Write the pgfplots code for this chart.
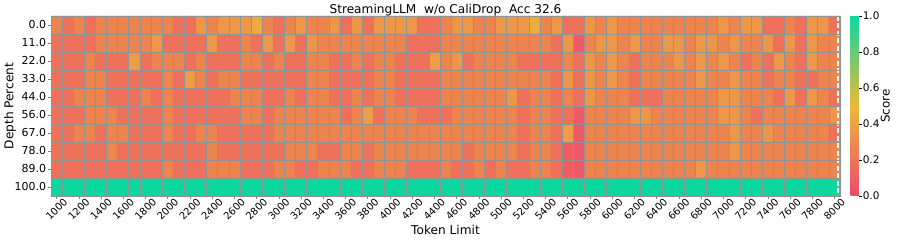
\documentclass[border=0pt]{standalone}
\usepackage{fontspec}
\setmainfont{DejaVu Sans}
\usepackage{pgfplots}
\pgfplotsset{compat=1.18}
\definecolor{gridgray}{RGB}{150,145,145}
\begin{document}
\begin{tikzpicture}
\useasboundingbox (0,0) rectangle (897bp,241bp);
\begin{axis}[
  at={(51bp,45bp)}, anchor=south west,
  scale only axis, width=789bp, height=180bp,
  xmin=-0.5, xmax=70.5, ymin=-0.5, ymax=9.5,
  y dir=reverse,
  /pgf/number format/assume math mode=true,
  colormap={niah}{rgb255=(240,73,110) rgb255=(235,184,57) rgb255=(12,215,159)},
  point meta min=0, point meta max=1,
  xtick={0,2,...,70},
  xticklabels={1000,1200,1400,1600,1800,2000,2200,2400,2600,2800,3000,3200,3400,3600,3800,4000,4200,4400,4600,4800,5000,5200,5400,5600,5800,6000,6200,6400,6600,6800,7000,7200,7400,7600,7800,8000},
  ytick={0,1,...,9},
  yticklabels={0.0,11.0,22.0,33.0,44.0,56.0,67.0,78.0,89.0,100.0},
  minor xtick={-0.5,0.5,...,70.5},
  minor ytick={-0.5,0.5,...,9.5},
  xminorgrids, yminorgrids,
  minor grid style={gridgray, line width=0.6bp},
  minor tick length=0pt,
  axis on top,
  axis line style={gridgray, line width=0.6bp},
  tick style={gray, line width=0.5bp}, major tick length=3bp, tick align=outside,
  xtick pos=bottom, ytick pos=left,
  xticklabel style={font=\fontsize{10}{12}\selectfont, yshift=-10bp, rotate=45, anchor=center},
  yticklabel style={font=\fontsize{11}{13}\selectfont, xshift=1.5bp},
  title={StreamingLLM\ \ w/o CaliDrop\ \ Acc 32.6},
  every axis title/.style={font=\fontsize{12.2}{14}\selectfont, at={(axis description cs:0.5,1.0139)}, anchor=base},
  xlabel={Token Limit},
  xlabel style={font=\fontsize{12.2}{14}\selectfont, at={(axis description cs:0.5,-0.2139)}, anchor=base},
  ylabel={Depth Percent},
  ylabel style={font=\fontsize{12.2}{14}\selectfont, at={(axis description cs:-0.052,0.5)}, anchor=center},
  colorbar,
  colorbar style={
    at={(parent axis.north east)}, anchor=north west, xshift=2bp,
    scale only axis, width=8.3bp, height=180bp,
    ytick={0,0.2,0.4,0.6,0.8,1},
    /pgf/number format/assume math mode=true,
    yticklabel style={font=\fontsize{10.5}{12}\selectfont, xshift=-2.5bp, /pgf/number format/.cd, fixed, fixed zerofill, precision=1, assume math mode=true},
    axis line style={draw=none},
    tick style={black, line width=0.5bp}, major tick length=3bp, tick align=outside,
    ytick pos=right, yticklabel pos=right,
    ylabel={Score},
    ylabel style={font=\fontsize{12}{14}\selectfont, at={(axis description cs:4.2,0.5)}, anchor=center},
  },
]
\addplot[matrix plot*, mesh/cols=71, point meta=explicit] table[meta=c, row sep=\\] {
x y c\\
0 0 0.27\\ 1 0 0.18\\ 2 0 0.27\\ 3 0 0.18\\ 4 0 0.27\\ 5 0 0.27\\ 6 0 0.27\\ 7 0 0.27\\ 8 0 0.27\\ 9 0 0.27\\
10 0 0.27\\ 11 0 0.18\\ 12 0 0.18\\ 13 0 0.35\\ 14 0 0.27\\ 15 0 0.35\\ 16 0 0.35\\ 17 0 0.35\\ 18 0 0.44\\ 19 0 0.27\\
20 0 0.18\\ 21 0 0.27\\ 22 0 0.35\\ 23 0 0.27\\ 24 0 0.27\\ 25 0 0.35\\ 26 0 0.18\\ 27 0 0.35\\ 28 0 0.18\\ 29 0 0.35\\
30 0 0.35\\ 31 0 0.35\\ 32 0 0.35\\ 33 0 0.18\\ 34 0 0.18\\ 35 0 0.27\\ 36 0 0.35\\ 37 0 0.35\\ 38 0 0.27\\ 39 0 0.27\\
40 0 0.35\\ 41 0 0.35\\ 42 0 0.35\\ 43 0 0.44\\ 44 0 0.27\\ 45 0 0.35\\ 46 0 0.18\\ 47 0 0.18\\ 48 0 0.35\\ 49 0 0.27\\
50 0 0.35\\ 51 0 0.27\\ 52 0 0.27\\ 53 0 0.27\\ 54 0 0.27\\ 55 0 0.27\\ 56 0 0.27\\ 57 0 0.27\\ 58 0 0.27\\ 59 0 0.27\\
60 0 0.35\\ 61 0 0.27\\ 62 0 0.35\\ 63 0 0.35\\ 64 0 0.18\\ 65 0 0.18\\ 66 0 0.27\\ 67 0 0.18\\ 68 0 0.35\\ 69 0 0.35\\ 70 0 0.18\\
0 1 0.18\\ 1 1 0.18\\ 2 1 0.18\\ 3 1 0.18\\ 4 1 0.27\\ 5 1 0.27\\ 6 1 0.27\\ 7 1 0.27\\ 8 1 0.27\\ 9 1 0.35\\
10 1 0.18\\ 11 1 0.18\\ 12 1 0.18\\ 13 1 0.18\\ 14 1 0.35\\ 15 1 0.18\\ 16 1 0.18\\ 17 1 0.27\\ 18 1 0.18\\ 19 1 0.35\\
20 1 0.18\\ 21 1 0.35\\ 22 1 0.18\\ 23 1 0.35\\ 24 1 0.27\\ 25 1 0.27\\ 26 1 0.27\\ 27 1 0.27\\ 28 1 0.27\\ 29 1 0.27\\
30 1 0.27\\ 31 1 0.27\\ 32 1 0.18\\ 33 1 0.18\\ 34 1 0.18\\ 35 1 0.27\\ 36 1 0.27\\ 37 1 0.27\\ 38 1 0.27\\ 39 1 0.27\\
40 1 0.27\\ 41 1 0.27\\ 42 1 0.27\\ 43 1 0.27\\ 44 1 0.27\\ 45 1 0.18\\ 46 1 0.35\\ 47 1 0.07\\ 48 1 0.27\\ 49 1 0.35\\
50 1 0.35\\ 51 1 0.27\\ 52 1 0.35\\ 53 1 0.27\\ 54 1 0.27\\ 55 1 0.35\\ 56 1 0.35\\ 57 1 0.27\\ 58 1 0.35\\ 59 1 0.35\\
60 1 0.27\\ 61 1 0.35\\ 62 1 0.27\\ 63 1 0.27\\ 64 1 0.35\\ 65 1 0.18\\ 66 1 0.35\\ 67 1 0.18\\ 68 1 0.35\\ 69 1 0.27\\ 70 1 0.27\\
0 2 0.18\\ 1 2 0.18\\ 2 2 0.18\\ 3 2 0.27\\ 4 2 0.18\\ 5 2 0.18\\ 6 2 0.18\\ 7 2 0.38\\ 8 2 0.18\\ 9 2 0.27\\
10 2 0.27\\ 11 2 0.27\\ 12 2 0.18\\ 13 2 0.27\\ 14 2 0.18\\ 15 2 0.18\\ 16 2 0.18\\ 17 2 0.27\\ 18 2 0.27\\ 19 2 0.18\\
20 2 0.27\\ 21 2 0.18\\ 22 2 0.18\\ 23 2 0.27\\ 24 2 0.27\\ 25 2 0.18\\ 26 2 0.18\\ 27 2 0.27\\ 28 2 0.18\\ 29 2 0.27\\
30 2 0.27\\ 31 2 0.18\\ 32 2 0.18\\ 33 2 0.18\\ 34 2 0.38\\ 35 2 0.27\\ 36 2 0.35\\ 37 2 0.18\\ 38 2 0.27\\ 39 2 0.27\\
40 2 0.27\\ 41 2 0.27\\ 42 2 0.18\\ 43 2 0.18\\ 44 2 0.18\\ 45 2 0.18\\ 46 2 0.27\\ 47 2 0.18\\ 48 2 0.35\\ 49 2 0.27\\
50 2 0.35\\ 51 2 0.27\\ 52 2 0.18\\ 53 2 0.27\\ 54 2 0.27\\ 55 2 0.27\\ 56 2 0.35\\ 57 2 0.27\\ 58 2 0.35\\ 59 2 0.27\\
60 2 0.35\\ 61 2 0.27\\ 62 2 0.18\\ 63 2 0.27\\ 64 2 0.18\\ 65 2 0.35\\ 66 2 0.27\\ 67 2 0.18\\ 68 2 0.35\\ 69 2 0.27\\ 70 2 0.27\\
0 3 0.18\\ 1 3 0.18\\ 2 3 0.18\\ 3 3 0.27\\ 4 3 0.27\\ 5 3 0.18\\ 6 3 0.18\\ 7 3 0.18\\ 8 3 0.18\\ 9 3 0.18\\
10 3 0.27\\ 11 3 0.18\\ 12 3 0.38\\ 13 3 0.27\\ 14 3 0.18\\ 15 3 0.27\\ 16 3 0.27\\ 17 3 0.18\\ 18 3 0.18\\ 19 3 0.18\\
20 3 0.18\\ 21 3 0.18\\ 22 3 0.18\\ 23 3 0.27\\ 24 3 0.27\\ 25 3 0.18\\ 26 3 0.18\\ 27 3 0.18\\ 28 3 0.18\\ 29 3 0.27\\
30 3 0.27\\ 31 3 0.18\\ 32 3 0.18\\ 33 3 0.18\\ 34 3 0.18\\ 35 3 0.27\\ 36 3 0.27\\ 37 3 0.27\\ 38 3 0.27\\ 39 3 0.27\\
40 3 0.27\\ 41 3 0.27\\ 42 3 0.27\\ 43 3 0.27\\ 44 3 0.27\\ 45 3 0.18\\ 46 3 0.35\\ 47 3 0.18\\ 48 3 0.35\\ 49 3 0.27\\
50 3 0.35\\ 51 3 0.27\\ 52 3 0.18\\ 53 3 0.27\\ 54 3 0.27\\ 55 3 0.27\\ 56 3 0.27\\ 57 3 0.27\\ 58 3 0.35\\ 59 3 0.27\\
60 3 0.27\\ 61 3 0.35\\ 62 3 0.27\\ 63 3 0.27\\ 64 3 0.18\\ 65 3 0.27\\ 66 3 0.27\\ 67 3 0.18\\ 68 3 0.18\\ 69 3 0.27\\ 70 3 0.27\\
0 4 0.18\\ 1 4 0.18\\ 2 4 0.27\\ 3 4 0.27\\ 4 4 0.27\\ 5 4 0.18\\ 6 4 0.18\\ 7 4 0.18\\ 8 4 0.27\\ 9 4 0.18\\
10 4 0.27\\ 11 4 0.18\\ 12 4 0.18\\ 13 4 0.18\\ 14 4 0.18\\ 15 4 0.18\\ 16 4 0.27\\ 17 4 0.27\\ 18 4 0.27\\ 19 4 0.18\\
20 4 0.18\\ 21 4 0.27\\ 22 4 0.18\\ 23 4 0.27\\ 24 4 0.27\\ 25 4 0.18\\ 26 4 0.18\\ 27 4 0.27\\ 28 4 0.18\\ 29 4 0.27\\
30 4 0.27\\ 31 4 0.18\\ 32 4 0.18\\ 33 4 0.18\\ 34 4 0.18\\ 35 4 0.27\\ 36 4 0.27\\ 37 4 0.27\\ 38 4 0.27\\ 39 4 0.27\\
40 4 0.27\\ 41 4 0.35\\ 42 4 0.18\\ 43 4 0.27\\ 44 4 0.27\\ 45 4 0.18\\ 46 4 0.27\\ 47 4 0.18\\ 48 4 0.35\\ 49 4 0.27\\
50 4 0.27\\ 51 4 0.27\\ 52 4 0.18\\ 53 4 0.18\\ 54 4 0.18\\ 55 4 0.27\\ 56 4 0.27\\ 57 4 0.27\\ 58 4 0.27\\ 59 4 0.27\\
60 4 0.35\\ 61 4 0.35\\ 62 4 0.27\\ 63 4 0.27\\ 64 4 0.27\\ 65 4 0.18\\ 66 4 0.35\\ 67 4 0.18\\ 68 4 0.35\\ 69 4 0.27\\ 70 4 0.18\\
0 5 0.18\\ 1 5 0.18\\ 2 5 0.18\\ 3 5 0.27\\ 4 5 0.27\\ 5 5 0.27\\ 6 5 0.18\\ 7 5 0.18\\ 8 5 0.18\\ 9 5 0.18\\
10 5 0.27\\ 11 5 0.18\\ 12 5 0.18\\ 13 5 0.18\\ 14 5 0.18\\ 15 5 0.18\\ 16 5 0.18\\ 17 5 0.27\\ 18 5 0.27\\ 19 5 0.18\\
20 5 0.27\\ 21 5 0.27\\ 22 5 0.27\\ 23 5 0.27\\ 24 5 0.27\\ 25 5 0.27\\ 26 5 0.18\\ 27 5 0.27\\ 28 5 0.38\\ 29 5 0.18\\
30 5 0.27\\ 31 5 0.27\\ 32 5 0.27\\ 33 5 0.18\\ 34 5 0.18\\ 35 5 0.18\\ 36 5 0.27\\ 37 5 0.27\\ 38 5 0.27\\ 39 5 0.27\\
40 5 0.27\\ 41 5 0.27\\ 42 5 0.18\\ 43 5 0.27\\ 44 5 0.27\\ 45 5 0.18\\ 46 5 0.18\\ 47 5 0.07\\ 48 5 0.27\\ 49 5 0.27\\
50 5 0.27\\ 51 5 0.27\\ 52 5 0.35\\ 53 5 0.35\\ 54 5 0.27\\ 55 5 0.27\\ 56 5 0.27\\ 57 5 0.27\\ 58 5 0.27\\ 59 5 0.27\\
60 5 0.35\\ 61 5 0.35\\ 62 5 0.27\\ 63 5 0.18\\ 64 5 0.27\\ 65 5 0.27\\ 66 5 0.27\\ 67 5 0.27\\ 68 5 0.27\\ 69 5 0.27\\ 70 5 0.35\\
0 6 0.18\\ 1 6 0.18\\ 2 6 0.27\\ 3 6 0.27\\ 4 6 0.18\\ 5 6 0.27\\ 6 6 0.27\\ 7 6 0.18\\ 8 6 0.18\\ 9 6 0.18\\
10 6 0.27\\ 11 6 0.18\\ 12 6 0.18\\ 13 6 0.27\\ 14 6 0.27\\ 15 6 0.18\\ 16 6 0.18\\ 17 6 0.18\\ 18 6 0.18\\ 19 6 0.18\\
20 6 0.27\\ 21 6 0.27\\ 22 6 0.27\\ 23 6 0.27\\ 24 6 0.27\\ 25 6 0.27\\ 26 6 0.27\\ 27 6 0.27\\ 28 6 0.27\\ 29 6 0.27\\
30 6 0.27\\ 31 6 0.27\\ 32 6 0.27\\ 33 6 0.27\\ 34 6 0.27\\ 35 6 0.27\\ 36 6 0.27\\ 37 6 0.27\\ 38 6 0.27\\ 39 6 0.27\\
40 6 0.27\\ 41 6 0.27\\ 42 6 0.18\\ 43 6 0.27\\ 44 6 0.27\\ 45 6 0.18\\ 46 6 0.38\\ 47 6 0.07\\ 48 6 0.27\\ 49 6 0.27\\
50 6 0.27\\ 51 6 0.27\\ 52 6 0.27\\ 53 6 0.27\\ 54 6 0.27\\ 55 6 0.27\\ 56 6 0.27\\ 57 6 0.27\\ 58 6 0.27\\ 59 6 0.27\\
60 6 0.27\\ 61 6 0.35\\ 62 6 0.27\\ 63 6 0.27\\ 64 6 0.35\\ 65 6 0.27\\ 66 6 0.27\\ 67 6 0.27\\ 68 6 0.27\\ 69 6 0.27\\ 70 6 0.18\\
0 7 0.18\\ 1 7 0.18\\ 2 7 0.18\\ 3 7 0.18\\ 4 7 0.18\\ 5 7 0.27\\ 6 7 0.18\\ 7 7 0.18\\ 8 7 0.18\\ 9 7 0.18\\
10 7 0.18\\ 11 7 0.18\\ 12 7 0.18\\ 13 7 0.18\\ 14 7 0.27\\ 15 7 0.18\\ 16 7 0.18\\ 17 7 0.18\\ 18 7 0.18\\ 19 7 0.18\\
20 7 0.18\\ 21 7 0.27\\ 22 7 0.27\\ 23 7 0.27\\ 24 7 0.18\\ 25 7 0.18\\ 26 7 0.27\\ 27 7 0.27\\ 28 7 0.18\\ 29 7 0.27\\
30 7 0.27\\ 31 7 0.27\\ 32 7 0.27\\ 33 7 0.27\\ 34 7 0.27\\ 35 7 0.27\\ 36 7 0.27\\ 37 7 0.18\\ 38 7 0.27\\ 39 7 0.27\\
40 7 0.27\\ 41 7 0.27\\ 42 7 0.18\\ 43 7 0.27\\ 44 7 0.27\\ 45 7 0.18\\ 46 7 0.09\\ 47 7 0.07\\ 48 7 0.27\\ 49 7 0.27\\
50 7 0.27\\ 51 7 0.27\\ 52 7 0.27\\ 53 7 0.27\\ 54 7 0.27\\ 55 7 0.27\\ 56 7 0.27\\ 57 7 0.27\\ 58 7 0.27\\ 59 7 0.27\\
60 7 0.27\\ 61 7 0.35\\ 62 7 0.27\\ 63 7 0.27\\ 64 7 0.27\\ 65 7 0.27\\ 66 7 0.27\\ 67 7 0.27\\ 68 7 0.27\\ 69 7 0.27\\ 70 7 0.27\\
0 8 0.18\\ 1 8 0.18\\ 2 8 0.18\\ 3 8 0.18\\ 4 8 0.18\\ 5 8 0.18\\ 6 8 0.18\\ 7 8 0.18\\ 8 8 0.18\\ 9 8 0.18\\
10 8 0.27\\ 11 8 0.18\\ 12 8 0.18\\ 13 8 0.18\\ 14 8 0.27\\ 15 8 0.27\\ 16 8 0.27\\ 17 8 0.18\\ 18 8 0.18\\ 19 8 0.18\\
20 8 0.27\\ 21 8 0.27\\ 22 8 0.18\\ 23 8 0.18\\ 24 8 0.27\\ 25 8 0.27\\ 26 8 0.27\\ 27 8 0.18\\ 28 8 0.18\\ 29 8 0.27\\
30 8 0.27\\ 31 8 0.27\\ 32 8 0.18\\ 33 8 0.18\\ 34 8 0.18\\ 35 8 0.27\\ 36 8 0.18\\ 37 8 0.18\\ 38 8 0.27\\ 39 8 0.18\\
40 8 0.27\\ 41 8 0.18\\ 42 8 0.18\\ 43 8 0.27\\ 44 8 0.27\\ 45 8 0.18\\ 46 8 0.09\\ 47 8 0.07\\ 48 8 0.27\\ 49 8 0.27\\
50 8 0.27\\ 51 8 0.27\\ 52 8 0.27\\ 53 8 0.27\\ 54 8 0.27\\ 55 8 0.27\\ 56 8 0.27\\ 57 8 0.27\\ 58 8 0.35\\ 59 8 0.27\\
60 8 0.27\\ 61 8 0.27\\ 62 8 0.27\\ 63 8 0.27\\ 64 8 0.27\\ 65 8 0.27\\ 66 8 0.27\\ 67 8 0.27\\ 68 8 0.27\\ 69 8 0.27\\ 70 8 0.27\\
0 9 1\\ 1 9 1\\ 2 9 1\\ 3 9 1\\ 4 9 1\\ 5 9 1\\ 6 9 1\\ 7 9 1\\ 8 9 1\\ 9 9 1\\
10 9 1\\ 11 9 1\\ 12 9 1\\ 13 9 1\\ 14 9 1\\ 15 9 1\\ 16 9 1\\ 17 9 1\\ 18 9 1\\ 19 9 1\\
20 9 1\\ 21 9 1\\ 22 9 1\\ 23 9 1\\ 24 9 1\\ 25 9 1\\ 26 9 1\\ 27 9 1\\ 28 9 1\\ 29 9 1\\
30 9 1\\ 31 9 1\\ 32 9 1\\ 33 9 1\\ 34 9 1\\ 35 9 1\\ 36 9 1\\ 37 9 1\\ 38 9 1\\ 39 9 1\\
40 9 1\\ 41 9 1\\ 42 9 1\\ 43 9 1\\ 44 9 1\\ 45 9 1\\ 46 9 1\\ 47 9 1\\ 48 9 1\\ 49 9 1\\
50 9 1\\ 51 9 1\\ 52 9 1\\ 53 9 1\\ 54 9 1\\ 55 9 1\\ 56 9 1\\ 57 9 1\\ 58 9 1\\ 59 9 1\\
60 9 1\\ 61 9 1\\ 62 9 1\\ 63 9 1\\ 64 9 1\\ 65 9 1\\ 66 9 1\\ 67 9 1\\ 68 9 1\\ 69 9 1\\ 70 9 1\\
};
\addplot[white, line width=1.8bp, dash pattern=on 5bp off 2.5bp, forget plot] coordinates {(70.33,-0.5) (70.33,9.5)};
\end{axis}
\end{tikzpicture}
\end{document}
